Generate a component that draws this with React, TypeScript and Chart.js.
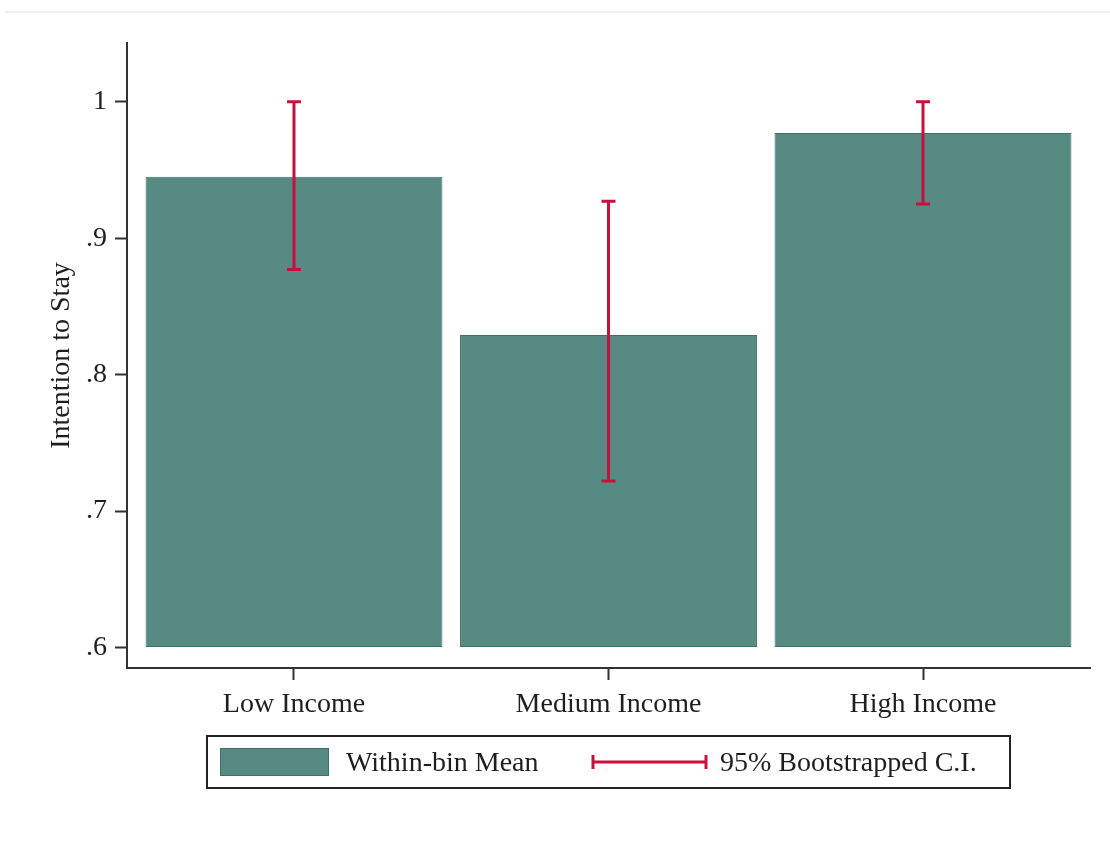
import { useEffect, useRef } from "react";
import { Chart, registerables } from "chart.js";

Chart.register(...registerables);

// Income groups placed at 1, 2, 3 on a numeric x axis
const incomeGroups = ["Low Income", "Medium Income", "High Income"];
const groupPositions = [1, 2, 3];

// Mean intention to stay within each income bin
const withinBinMean = [0.945, 0.829, 0.977];

// 95% bootstrapped confidence interval bounds
const ciLower = [0.877, 0.722, 0.925];
const ciUpper = [1.0, 0.927, 1.0];

// Bars rise from this value
const barBase = 0.6;

const yTickValues = [0.6, 0.7, 0.8, 0.9, 1.0];
const yTickLabels = [".6", ".7", ".8", ".9", "1"];

const legendLabels = ["Within-bin Mean", "95% Bootstrapped C.I."];

const BAR_FILL = "#578a83";
const BAR_EDGE = "#3c7169";
const CI_COLOR = "#c8103c";
const AXIS_COLOR = "#333333";
const TEXT_COLOR = "#1e1e1e";
const FONT_FAMILY = "'Liberation Serif', 'Times New Roman', serif";

const ciPlugin = {
  id: "ciWhiskers",
  afterDatasetsDraw(chart: any) {
    const { ctx } = chart;
    const x = chart.scales.x;
    const y = chart.scales.y;
    ctx.save();
    ctx.strokeStyle = CI_COLOR;
    ctx.lineWidth = 3;
    ctx.lineCap = "butt";
    groupPositions.forEach((g, i) => {
      const px = x.getPixelForValue(g);
      const lo = y.getPixelForValue(ciLower[i]);
      const hi = y.getPixelForValue(ciUpper[i]);
      ctx.beginPath();
      ctx.moveTo(px, lo);
      ctx.lineTo(px, hi);
      ctx.moveTo(px - 7, lo);
      ctx.lineTo(px + 7, lo);
      ctx.moveTo(px - 7, hi);
      ctx.lineTo(px + 7, hi);
      ctx.stroke();
    });
    ctx.restore();
  },
};

const legendBoxPlugin = {
  id: "legendBox",
  afterDraw(chart: any) {
    const { ctx, chartArea } = chart;
    const xScale = chart.scales.x;
    const boxW = 803;
    const boxH = 52;
    const cx = (chartArea.left + chartArea.right) / 2;
    const left = Math.round(cx - boxW / 2);
    const top = Math.round(xScale.bottom + 8);
    const midY = top + boxH / 2;

    ctx.save();
    ctx.strokeStyle = "#222222";
    ctx.lineWidth = 2;
    ctx.strokeRect(left, top, boxW, boxH);

    // bar swatch
    ctx.fillStyle = BAR_FILL;
    ctx.strokeStyle = BAR_EDGE;
    ctx.lineWidth = 1;
    ctx.fillRect(left + 13, midY - 14, 109, 28);
    ctx.strokeRect(left + 13.5, midY - 13.5, 108, 27);

    ctx.fillStyle = TEXT_COLOR;
    ctx.font = `28px ${FONT_FAMILY}`;
    ctx.textBaseline = "middle";
    ctx.textAlign = "left";
    ctx.fillText(legendLabels[0], left + 139, midY + 2);

    // interval whisker swatch
    const lx0 = left + 386;
    const lx1 = left + 499;
    ctx.strokeStyle = CI_COLOR;
    ctx.lineWidth = 3;
    ctx.beginPath();
    ctx.moveTo(lx0, midY);
    ctx.lineTo(lx1, midY);
    ctx.moveTo(lx0, midY - 7);
    ctx.lineTo(lx0, midY + 7);
    ctx.moveTo(lx1, midY - 7);
    ctx.lineTo(lx1, midY + 7);
    ctx.stroke();

    ctx.fillStyle = TEXT_COLOR;
    ctx.fillText(legendLabels[1], left + 513, midY + 2);
    ctx.restore();
  },
};

export default function App() {
  const canvasRef = useRef<HTMLCanvasElement | null>(null);

  useEffect(() => {
    const canvas = canvasRef.current;
    if (!canvas) return;
    Chart.defaults.font.family = FONT_FAMILY;
    Chart.defaults.color = TEXT_COLOR;

    const chart = new Chart(canvas, {
      type: "bar",
      data: {
        datasets: [
          {
            label: legendLabels[0],
            data: groupPositions.map((g, i) => ({ x: g, y: withinBinMean[i] })),
            base: barBase,
            backgroundColor: BAR_FILL,
            borderColor: BAR_EDGE,
            borderWidth: 1,
            borderSkipped: false,
            categoryPercentage: 1,
            barPercentage: 0.944,
          } as any,
        ],
      },
      options: {
        animation: false,
        responsive: false,
        devicePixelRatio: 1,
        layout: { padding: { top: 43, right: 20, bottom: 130, left: 0 } },
        plugins: {
          legend: { display: false },
          tooltip: { enabled: false },
        },
        scales: {
          x: {
            type: "linear",
            offset: false,
            min: 0.469,
            max: 3.531,
            afterBuildTicks: (scale: any) => {
              scale.ticks = groupPositions.map((v) => ({ value: v }));
            },
            afterFit: (scale: any) => {
              scale.height = 60;
            },
            grid: {
              display: true,
              offset: false,
              drawOnChartArea: false,
              drawTicks: true,
              tickLength: 12,
              tickWidth: 2,
              tickColor: AXIS_COLOR,
            },
            border: { display: true, color: AXIS_COLOR, width: 2 },
            ticks: {
              padding: 8,
              maxRotation: 0,
              autoSkip: false,
              font: { size: 28 },
              color: TEXT_COLOR,
              callback: (value: any) => {
                const idx = groupPositions.indexOf(Number(value));
                return idx >= 0 ? incomeGroups[idx] : "";
              },
            },
          },
          y: {
            type: "linear",
            min: 0.585,
            max: 1.043,
            afterBuildTicks: (scale: any) => {
              scale.ticks = yTickValues.map((v) => ({ value: v }));
            },
            afterFit: (scale: any) => {
              scale.width = 127;
            },
            grid: {
              display: true,
              drawOnChartArea: false,
              drawTicks: true,
              tickLength: 12,
              tickWidth: 2,
              tickColor: AXIS_COLOR,
            },
            border: { display: true, color: AXIS_COLOR, width: 2 },
            ticks: {
              padding: 8,
              font: { size: 28 },
              color: TEXT_COLOR,
              callback: (value: any) => {
                const idx = yTickValues.findIndex((v) => Math.abs(v - Number(value)) < 1e-6);
                return idx >= 0 ? yTickLabels[idx] : "";
              },
            },
            title: {
              display: true,
              text: "Intention to Stay",
              font: { size: 28 },
              color: TEXT_COLOR,
              padding: { top: 45, bottom: 0 },
            },
          },
        },
      },
      plugins: [ciPlugin, legendBoxPlugin],
    });

    return () => chart.destroy();
  }, []);

  return (
    <div style={{ position: "fixed", left: 0, top: 0, width: 1110, height: 858, background: "#ffffff" }}>
      <div style={{ position: "absolute", left: 5, right: 0, top: 11, height: 2, background: "#eeeeee" }} />
      <canvas ref={canvasRef} width={1110} height={858} style={{ position: "absolute", left: 0, top: 0 }} />
    </div>
  );
}
